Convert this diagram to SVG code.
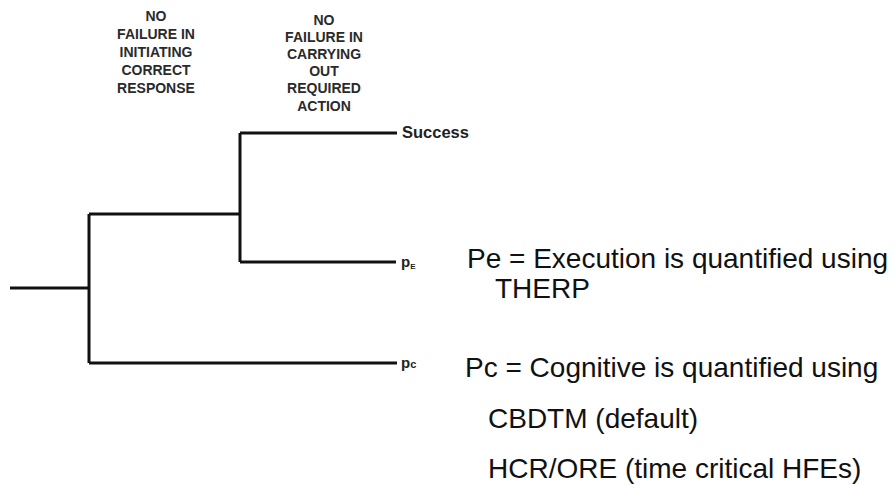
<svg xmlns="http://www.w3.org/2000/svg" width="895" height="485" viewBox="0 0 895 485">
<style>
.ln{stroke:#111;stroke-width:3;fill:none;stroke-linecap:butt;stroke-linejoin:miter}
.hd{font-family:"Liberation Sans",Arial,sans-serif;font-size:14px;font-weight:bold;fill:#2a2a2a;text-anchor:middle}
.lb{font-family:"Liberation Sans",Arial,sans-serif;font-weight:bold;fill:#222}
.big{font-family:"Liberation Sans",Arial,sans-serif;font-size:28px;fill:#111}
</style>
<rect width="895" height="485" fill="#fff"/>
<g id="header-initiating">
<text class="hd" x="156" y="21">NO</text>
<text class="hd" x="156" y="39">FAILURE IN</text>
<text class="hd" x="156" y="57">INITIATING</text>
<text class="hd" x="156" y="75">CORRECT</text>
<text class="hd" x="156" y="93">RESPONSE</text>
</g>
<g id="header-carrying">
<text class="hd" x="324" y="25">NO</text>
<text class="hd" x="324" y="42">FAILURE IN</text>
<text class="hd" x="324" y="59">CARRYING</text>
<text class="hd" x="324" y="76">OUT</text>
<text class="hd" x="324" y="93">REQUIRED</text>
<text class="hd" x="324" y="111">ACTION</text>
</g>
<g id="connectors">
<path class="ln" d="M10,288 H89"/>
<path class="ln" d="M89,214 V363"/>
<path class="ln" d="M89,214 H240"/>
<path class="ln" d="M240,133 V262"/>
<path class="ln" d="M240,133 H397"/>
<path class="ln" d="M240,262 H396"/>
<path class="ln" d="M89,363 H397"/>
</g>
<g id="success">
<text class="lb" x="402" y="138" font-size="16.5">Success</text>
</g>
<g id="pE">
<text class="lb" x="401" y="267" font-size="15" fill="#333">p<tspan font-size="8" dy="2">E</tspan></text>
</g>
<g id="pC">
<text class="lb" x="401" y="368" font-size="15" fill="#333">p<tspan font-size="11" dy="0">c</tspan></text>
</g>
<g id="pe-note">
<text class="big" x="467" y="268">Pe = Execution is quantified using</text>
<text class="big" x="495" y="298">THERP</text>
</g>
<g id="pc-note">
<text class="big" x="465" y="377">Pc = Cognitive is quantified using</text>
<text class="big" x="488" y="428">CBDTM (default)</text>
<text class="big" x="488" y="478">HCR/ORE (time critical HFEs)</text>
</g>
</svg>
